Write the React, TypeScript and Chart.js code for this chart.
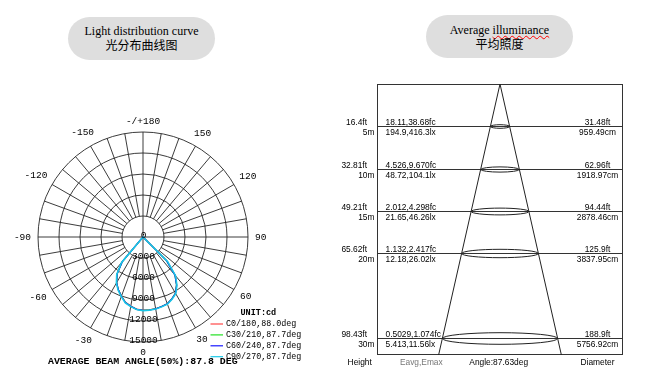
import React, { useEffect, useRef } from 'react';
import { Chart, registerables } from 'chart.js';

Chart.register(...registerables);

// ---------- Light distribution (polar) data ----------
const GAMMA_STEP = 5; // degrees between samples
// intensity (cd) by gamma 0,5,10,...,90 ; beyond 90 deg the luminaire emits nothing (0)
const c0Right = [10450, 10440, 10400, 10280, 10150, 9770, 9300, 8400, 7200, 4900, 0, 0, 0, 0, 0, 0, 0, 0, 0];
const c0Left = [10450, 10350, 10020, 9650, 8980, 8320, 7540, 6500, 4700, 0, 0, 0, 0, 0, 0, 0, 0, 0, 0];
const c30Right = [10470, 10460, 10410, 10270, 10140, 9750, 9270, 8330, 7080, 4650, 0, 0, 0, 0, 0, 0, 0, 0, 0];
const c30Left = [10470, 10370, 10040, 9680, 8990, 8320, 7510, 6440, 4580, 0, 0, 0, 0, 0, 0, 0, 0, 0, 0];
const c60Right = [10480, 10470, 10420, 10280, 10150, 9760, 9280, 8350, 7100, 4700, 0, 0, 0, 0, 0, 0, 0, 0, 0];
const c60Left = [10480, 10380, 10060, 9700, 9000, 8330, 7520, 6450, 4600, 0, 0, 0, 0, 0, 0, 0, 0, 0, 0];
const c90Right = [10520, 10510, 10460, 10330, 10210, 9830, 9360, 8460, 7260, 5000, 0, 0, 0, 0, 0, 0, 0, 0, 0];
const c90Left = [10520, 10410, 10110, 9760, 9060, 8410, 7610, 6560, 4800, 0, 0, 0, 0, 0, 0, 0, 0, 0, 0];

const seriesNames = ['C0/180,88.0deg', 'C30/210,87.7deg', 'C60/240,87.7deg', 'C90/270,87.7deg'];
const seriesColors = ['#ff4848', '#22e022', '#1818ff', '#18c8e8'];
const seriesRight = [c0Right, c30Right, c60Right, c90Right];
const seriesLeft = [c0Left, c30Left, c60Left, c90Left];

const intensityTicks = [0, 3000, 6000, 9000, 12000, 15000];
const angleTickValues = [-150, -120, -90, -60, -30, 0, 30, 60, 90, 120, 150, 180];
const angleTickText = ['-150', '-120', '-90', '-60', '-30', '0', '30', '60', '90', '120', '150', '-/+180'];
const unitText = 'UNIT:cd';
const beamText = 'AVERAGE BEAM ANGLE(50%):87.8 DEG';

// ---------- Average illuminance data ----------
const heightsM = [5, 10, 15, 20, 30];
const heightFtText = ['16.4ft', '32.81ft', '49.21ft', '65.62ft', '98.43ft'];
const heightMText = ['5m', '10m', '15m', '20m', '30m'];
const eFcText = ['18.11,38.68fc', '4.526,9.670fc', '2.012,4.298fc', '1.132,2.417fc', '0.5029,1.074fc'];
const eLxText = ['194.9,416.3lx', '48.72,104.1lx', '21.65,46.26lx', '12.18,26.02lx', '5.413,11.56lx'];
const diamFtText = ['31.48ft', '62.96ft', '94.44ft', '125.9ft', '188.9ft'];
const diamCm = [959.49, 1918.97, 2878.46, 3837.95, 5756.92];
const coneAngleDeg = 87.63;
const footerLabels = ['Height', 'Eavg,Emax', 'Angle:87.63deg', 'Diameter'];
const depthMax = 32; // m shown
const halfSpan = 61.5; // m, horizontal extent of the box

const N_IDX = 360 / GAMMA_STEP;
const gammaToIndex = (g: number) => (g <= 0 ? -g / GAMMA_STEP : N_IDX - g / GAMMA_STEP);
const radarLabels = Array.from({ length: N_IDX }, (_, i) => String(i <= N_IDX / 2 ? -i * GAMMA_STEP : (N_IDX - i) * GAMMA_STEP));
const toRadar = (left: number[], right: number[]) =>
  Array.from({ length: N_IDX }, (_, i) => {
    if (i <= N_IDX / 2) return left[i] ?? 0;
    return right[N_IDX - i] ?? 0;
  });

const MONO = "'Liberation Mono', 'DejaVu Sans Mono', monospace";
const SANS = "'Liberation Sans', Arial, sans-serif";
const GRID = '#262626';

const polarDecor = {
  id: 'polarDecor',
  beforeDatasetsDraw(chart: any) {
    const s = chart.scales.r;
    const ctx = chart.ctx;
    ctx.save();
    ctx.strokeStyle = GRID;
    ctx.lineWidth = 0.9;
    const rIn = s.getDistanceFromCenterForValue(intensityTicks[1]);
    const rOut = s.drawingArea;
    for (let g = -170; g <= 180; g += 10) {
      const idx = gammaToIndex(g);
      const full = g % 90 === 0;
      const p0 = s.getPointPosition(idx, full ? 0 : rIn);
      const p1 = s.getPointPosition(idx, rOut);
      ctx.beginPath();
      ctx.moveTo(p0.x, p0.y);
      ctx.lineTo(p1.x, p1.y);
      ctx.stroke();
    }
    ctx.restore();
  },
  afterDraw(chart: any) {
    const s = chart.scales.r;
    const ctx = chart.ctx;
    ctx.save();
    ctx.fillStyle = '#000';
    ctx.textBaseline = 'middle';
    ctx.textAlign = 'center';
    ctx.font = `9.5px ${MONO}`;
    // angle labels
    angleTickValues.forEach((g, k) => {
      const idx = gammaToIndex(g);
      const txt = angleTickText[k];
      const w = ctx.measureText(txt).width;
      const a = (g * Math.PI) / 180;
      const r = s.drawingArea + 7 + (w / 2) * Math.abs(Math.sin(a)) + 3.5 * Math.abs(Math.cos(a));
      const p = s.getPointPosition(idx, r);
      ctx.fillText(txt, p.x, p.y);
    });
    // intensity labels along the 0 deg axis
    intensityTicks.forEach((v) => {
      const d = s.getDistanceFromCenterForValue(v);
      const p = s.getPointPosition(0, d);
      ctx.fillText(String(v), p.x + 0.5, p.y - 1.5);
    });
    // legend
    ctx.textAlign = 'left';
    ctx.font = `bold 8.5px ${MONO}`;
    ctx.fillText(unitText, 240.5, 312.5);
    ctx.font = `8.4px ${MONO}`;
    seriesNames.forEach((n, i) => {
      const y = 324 + i * 10.9;
      ctx.strokeStyle = seriesColors[i];
      ctx.lineWidth = 1.2;
      ctx.beginPath();
      ctx.moveTo(210.5, y);
      ctx.lineTo(223, y);
      ctx.stroke();
      ctx.fillStyle = '#000';
      ctx.fillText(n, 226, y);
    });
    ctx.font = `bold 9.9px ${MONO}`;
    ctx.fillText(beamText, 48, 362);
    ctx.restore();
  },
};

const illumDecor = {
  id: 'illumDecor',
  beforeDatasetsDraw(chart: any) {
    const { ctx, chartArea: a } = chart;
    const y = chart.scales.y;
    ctx.save();
    ctx.strokeStyle = '#333';
    ctx.lineWidth = 1;
    ctx.strokeRect(Math.round(a.left) + 0.5, Math.round(a.top) + 0.5, Math.round(a.right - a.left) - 1, Math.round(a.bottom - a.top) - 1);
    heightsM.forEach((h) => {
      const py = Math.round(y.getPixelForValue(h)) + 0.5;
      ctx.beginPath();
      ctx.moveTo(a.left, py);
      ctx.lineTo(a.right, py);
      ctx.stroke();
    });
    ctx.restore();
  },
  afterDatasetsDraw(chart: any) {
    const { ctx, chartArea: a } = chart;
    const x = chart.scales.x;
    const y = chart.scales.y;
    ctx.save();
    ctx.strokeStyle = '#222';
    ctx.lineWidth = 1;
    heightsM.forEach((h, i) => {
      const cx = x.getPixelForValue(0);
      const cy = Math.round(y.getPixelForValue(h)) + 0.5;
      const rx = x.getPixelForValue(diamCm[i] / 200) - cx;
      const ry = 1 + 0.16 * h;
      ctx.beginPath();
      ctx.ellipse(cx, cy, rx, ry, 0, 0, Math.PI * 2);
      ctx.stroke();
    });
    ctx.fillStyle = '#000';
    ctx.font = `8.4px ${SANS}`;
    ctx.textBaseline = 'alphabetic';
    heightsM.forEach((h, i) => {
      const py = Math.round(y.getPixelForValue(h));
      ctx.textAlign = 'right';
      ctx.fillText(heightFtText[i], a.left - 10, py - 1);
      ctx.fillText(heightMText[i], a.left - 2.5, py + 8.8);
      ctx.textAlign = 'left';
      ctx.fillText(eFcText[i], a.left + 8.5, py - 1);
      ctx.fillText(eLxText[i], a.left + 8.5, py + 8.8);
      ctx.textAlign = 'center';
      ctx.fillText(diamFtText[i], a.right - 25.5, py - 1);
      ctx.fillText(diamCm[i].toFixed(2) + 'cm', a.right - 25.5, py + 8.8);
    });
    const fx = [359.7, 421.3, 498.7, 597.5];
    const left = chart.canvas.getBoundingClientRect().left;
    footerLabels.forEach((t, i) => {
      ctx.fillStyle = i === 1 ? '#777' : '#000';
      ctx.textAlign = 'center';
      ctx.fillText(t, fx[i] - left, a.bottom + 10);
    });
    ctx.restore();
  },
};

function PolarChart() {
  const ref = useRef<HTMLCanvasElement>(null);
  useEffect(() => {
    const chart = new Chart(ref.current!, {
      type: 'radar',
      data: {
        labels: radarLabels,
        datasets: seriesNames.map((n, i) => ({
          label: n,
          data: toRadar(seriesLeft[i], seriesRight[i]),
          borderColor: seriesColors[i],
          borderWidth: i === 3 ? 1.5 : 1.2,
          pointRadius: 0,
          fill: false,
          order: seriesNames.length - i,
        })),
      },
      options: {
        animation: false,
        responsive: false,
        maintainAspectRatio: false,
        layout: { padding: { left: 38, top: 132, right: 82, bottom: 39 } },
        plugins: { legend: { display: false }, tooltip: { enabled: false } },
        scales: {
          r: {
            min: 0,
            max: 15000,
            startAngle: 180,
            ticks: { stepSize: 3000, display: false },
            pointLabels: { display: false },
            angleLines: { display: false },
            grid: { circular: true, color: GRID, lineWidth: 0.9 },
          },
        },
      } as any,
      plugins: [polarDecor],
    });
    return () => chart.destroy();
  }, []);
  return <canvas ref={ref} width={330} height={381} style={{ position: 'absolute', left: 0, top: 0, width: 330, height: 381 }} />;
}

function IllumChart() {
  const ref = useRef<HTMLCanvasElement>(null);
  useEffect(() => {
    const half = depthMax * Math.tan(((coneAngleDeg / 2) * Math.PI) / 180);
    const chart = new Chart(ref.current!, {
      type: 'scatter',
      data: {
        datasets: [
          { data: [{ x: 0, y: 0 }, { x: -half, y: depthMax }], showLine: true, borderColor: '#222', borderWidth: 1, pointRadius: 0 },
          { data: [{ x: 0, y: 0 }, { x: half, y: depthMax }], showLine: true, borderColor: '#222', borderWidth: 1, pointRadius: 0 },
        ],
      },
      options: {
        animation: false,
        responsive: false,
        maintainAspectRatio: false,
        layout: { padding: { left: 52, top: 18, right: 26, bottom: 26 } },
        plugins: { legend: { display: false }, tooltip: { enabled: false } },
        scales: {
          x: { type: 'linear', min: -halfSpan, max: halfSpan, display: false },
          y: { type: 'linear', min: 0, max: depthMax, reverse: true, display: false },
        },
      } as any,
      plugins: [illumDecor],
    });
    return () => chart.destroy();
  }, []);
  return <canvas ref={ref} width={324} height={315} style={{ position: 'absolute', left: 325, top: 66, width: 324, height: 315 }} />;
}

const pill: React.CSSProperties = {
  position: 'absolute',
  width: 147,
  height: 43,
  borderRadius: 22,
  background: '#dedede',
};
const lineEn: React.CSSProperties = {
  position: 'absolute',
  left: 0,
  width: 147,
  textAlign: 'center',
  fontFamily: "'Liberation Serif', 'Times New Roman', serif",
  fontSize: 12,
  lineHeight: '14px',
  color: '#000',
  whiteSpace: 'nowrap',
};
const lineZh: React.CSSProperties = {
  ...lineEn,
  fontFamily: "'Noto Sans CJK SC', sans-serif",
};

export default function App() {
  return (
    <div style={{ position: 'fixed', left: 0, top: 0, width: 649, height: 381, background: '#fff', overflow: 'hidden' }}>
      <div style={{ ...pill, left: 68, top: 17 }}>
        <div style={{ ...lineEn, top: 7 }}>Light distribution curve</div>
        <div style={{ ...lineZh, top: 21 }}>光分布曲线图</div>
      </div>
      <div style={{ ...pill, left: 426, top: 15 }}>
        <div style={{ ...lineEn, top: 8 }}>
          Average{' '}
          <span style={{ textDecoration: 'underline wavy red', textDecorationThickness: '1px' }}>illuminance</span>
        </div>
        <div style={{ ...lineZh, top: 22 }}>平均照度</div>
      </div>
      <PolarChart />
      <IllumChart />
    </div>
  );
}
